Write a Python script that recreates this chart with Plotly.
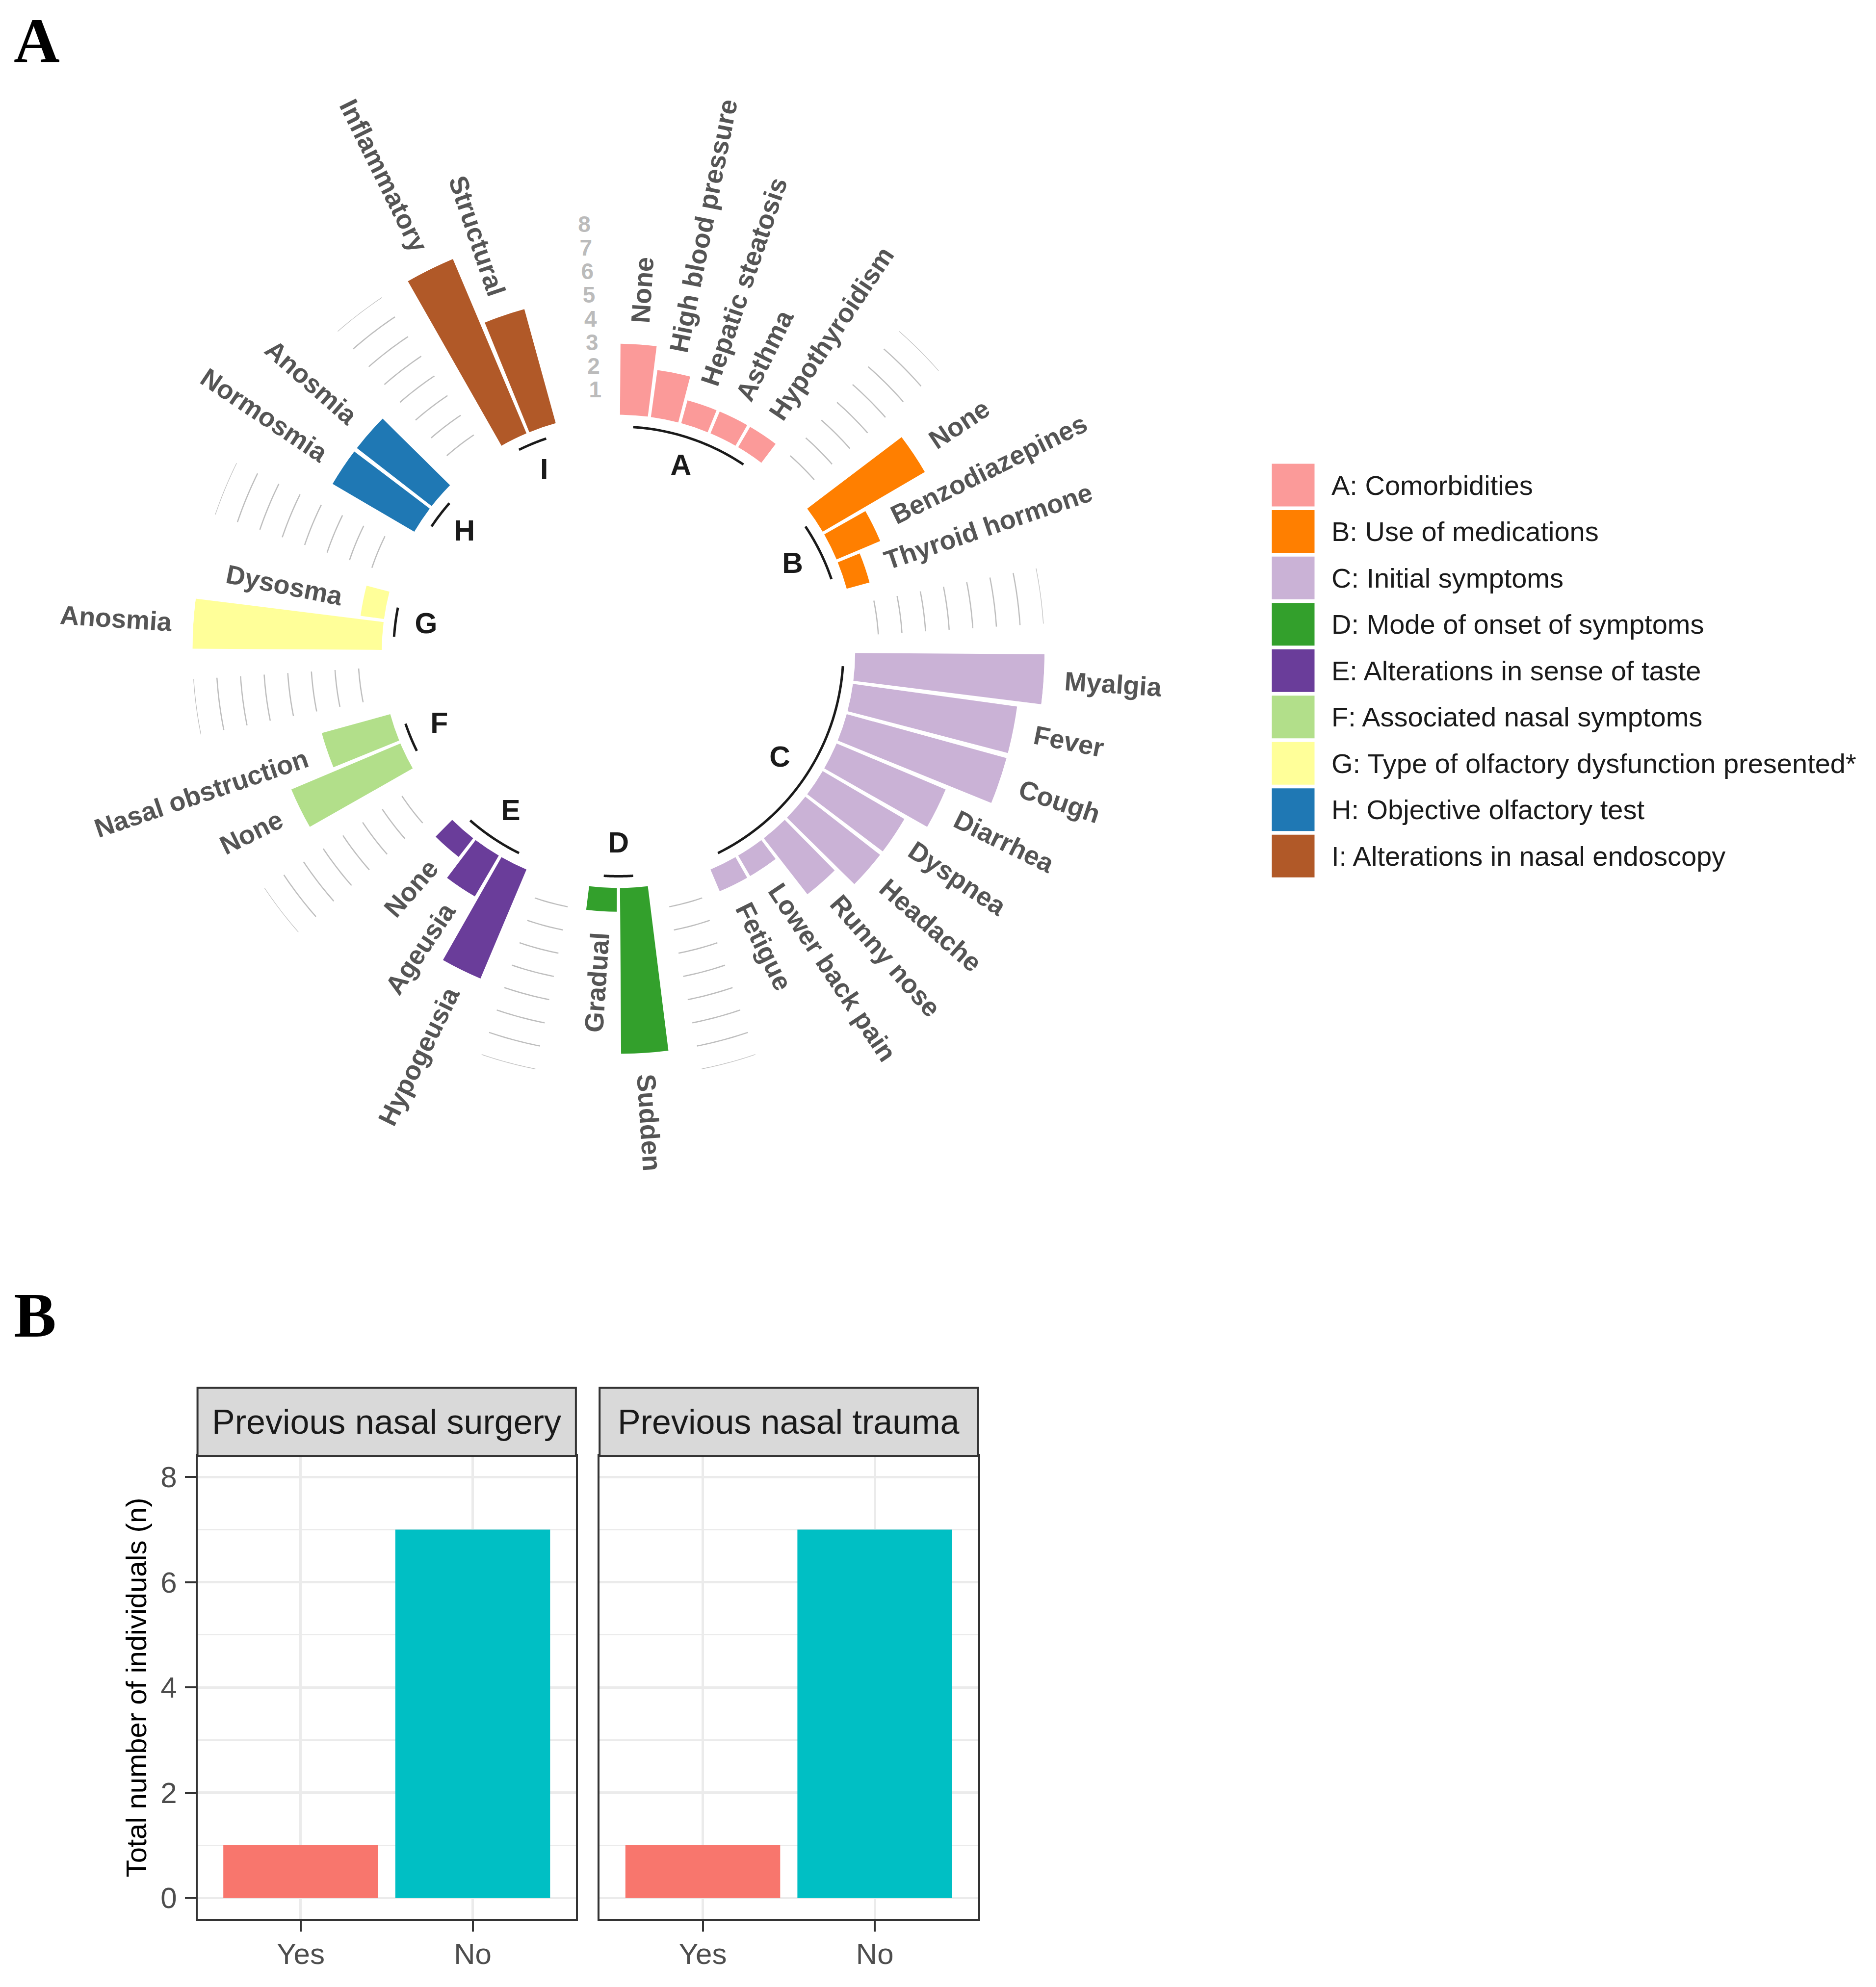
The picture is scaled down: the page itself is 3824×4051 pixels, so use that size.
import numpy as np
import plotly.graph_objects as go

# ======================= DATA =======================
group_letters = ["A", "B", "C", "D", "E", "F", "G", "H", "I"]
group_titles = [
    "Comorbidities",
    "Use of medications",
    "Initial symptoms",
    "Mode of onset of symptoms",
    "Alterations in sense of taste",
    "Associated nasal symptoms",
    "Type of olfactory dysfunction presented*",
    "Objective olfactory test",
    "Alterations in nasal endoscopy",
]
group_colors = ["#FB9A99", "#FF7F00", "#CAB2D6", "#33A02C", "#6A3D9A",
                "#B2DF8A", "#FFFF99", "#1F78B4", "#B15928"]

cats_A = ["None", "High blood pressure", "Hepatic steatosis", "Asthma", "Hypothyroidism"]
vals_A = [3, 2, 1, 1, 1]
cats_B = ["None", "Benzodiazepines", "Thyroid hormone"]
vals_B = [5, 2, 1]
cats_C = ["Myalgia", "Fever", "Cough", "Diarrhea", "Dyspnea", "Headache",
          "Runny nose", "Lower back pain", "Fetigue"]
vals_C = [8, 7, 7, 5, 4, 4, 3, 1, 1]
cats_D = ["Sudden", "Gradual"]
vals_D = [7, 1]
cats_E = ["Hypogeusia", "Ageusia", "None"]
vals_E = [5, 2, 1]
cats_F = ["None", "Nasal obstruction"]
vals_F = [5, 3]
cats_G = ["Anosmia", "Dysosma"]
vals_G = [8, 1]
cats_H = ["Normosmia", "Anosmia"]
vals_H = [4, 4]
cats_I = ["Inflammatory", "Structural"]
vals_I = [8, 5]

scale_ticks = [1, 2, 3, 4, 5, 6, 7, 8]

facet_titles = ["Previous nasal surgery", "Previous nasal trauma"]
answers = ["Yes", "No"]
surgery_n = [1, 7]
trauma_n = [1, 7]
answer_colors = ["#F8766D", "#00BFC4"]
b_yticks = [0, 2, 4, 6, 8]

# ======================= LAYOUT CONSTANTS =======================
W, H = 3824, 4051


def fx(p):
    return p / W


def fy(p):
    return 1 - p / H


CX, CY, RAD = 1260.7, 1328.1, 868.5      # circle centre / outer radius (px)
R_MIN, R_MAX = -10, 8
EMPTY = 2
LABEL_GAP = 0.9
ARC_R = -0.5
LETTER_R = -1.8
SPAN = R_MAX - R_MIN
OVER = 1.4                                # overlay frame enlargement

SANS = "Liberation Sans, Arial, sans-serif"
SERIF = "Liberation Serif, Times New Roman, serif"
LABEL_COLOR = "#555555"

groups = list(zip(group_letters,
                  [cats_A, cats_B, cats_C, cats_D, cats_E, cats_F, cats_G, cats_H, cats_I],
                  [vals_A, vals_B, vals_C, vals_D, vals_E, vals_F, vals_G, vals_H, vals_I],
                  group_colors))

# slot assignment
slot = 1
spans = []
bar_rows = []
for letter, cats, vals, col in groups:
    s0 = slot
    for c, v in zip(cats, vals):
        bar_rows.append((c, v, slot))
        slot += 1
    spans.append((s0, slot - 1))
    slot += EMPTY
N_SLOTS = slot - 1
STEP = 360.0 / N_SLOTS


def theta(s):
    return (s - 0.5) * STEP


fig = go.Figure()

# ---- bars ----
for gi, (letter, cats, vals, col) in enumerate(groups):
    s0, s1 = spans[gi]
    fig.add_trace(go.Barpolar(
        r=vals, theta=[theta(s) for s in range(s0, s1 + 1)], base=0,
        width=STEP * 0.9, marker=dict(color=col, line=dict(width=0)),
        subplot="polar", showlegend=False, hoverinfo="skip"))

# ---- grey scale lines in gaps ----
gl_r, gl_t = [], []
for gi in range(len(groups) - 1):
    e = spans[gi][1]
    ts = np.linspace(theta(e + 1), theta(e + EMPTY), 12)
    for lv in scale_ticks:
        gl_r += [lv] * len(ts) + [None]
        gl_t += list(ts) + [None]
fig.add_trace(go.Scatterpolar(r=gl_r, theta=gl_t, mode="lines",
                              line=dict(color="#BEBEBE", width=2.5),
                              subplot="polar", showlegend=False, hoverinfo="skip"))

# ---- group base arcs ----
ar_r, ar_t = [], []
for s0, s1 in spans:
    ts = np.linspace(theta(s0), theta(s1), 40)
    ar_r += [ARC_R] * len(ts) + [None]
    ar_t += list(ts) + [None]
fig.add_trace(go.Scatterpolar(r=ar_r, theta=ar_t, mode="lines",
                              line=dict(color="#1A1A1A", width=5),
                              subplot="polar", showlegend=False, hoverinfo="skip"))

# ---- group letters ----
fig.add_trace(go.Scatterpolar(
    r=[LETTER_R] * len(spans), theta=[theta((s0 + s1) / 2) for s0, s1 in spans],
    text=group_letters, mode="text", textposition="middle center",
    textfont=dict(family=SANS, size=59, color="#1A1A1A", weight="bold"),
    subplot="polar", showlegend=False, hoverinfo="skip"))

# ---- scale numbers ----
fig.add_trace(go.Scatterpolar(
    r=scale_ticks, theta=[theta(N_SLOTS)] * len(scale_ticks),
    text=[str(t) for t in scale_ticks], mode="text", textposition="middle left",
    textfont=dict(family=SANS, size=46, color="#BBBBBB", weight="bold"),
    subplot="polar", showlegend=False, hoverinfo="skip"))

# overlay cartesian frame concentric with polar (for rotated labels)
fig.add_trace(go.Scatter(x=[None], y=[None], xaxis="x", yaxis="y",
                         showlegend=False, hoverinfo="skip"))

annotations = []
INV = '<span style="color:rgba(0,0,0,0)">{}</span>'
for lab, v, s in bar_rows:
    th = theta(s)
    rr = v + LABEL_GAP - R_MIN
    x = rr * np.sin(np.radians(th))
    y = rr * np.cos(np.radians(th))
    if th < 180:
        txt = INV.format(lab) + lab
        ang = th - 90
    else:
        txt = lab + INV.format(lab)
        ang = th - 270
    annotations.append(dict(
        x=x, y=y, xref="x", yref="y", text=txt, textangle=ang,
        showarrow=False, xanchor="center", yanchor="middle",
        font=dict(family=SANS, size=54, color=LABEL_COLOR, weight="bold")))

# ---- legend (manual, squares on own axis) ----
LEG_X0, LEG_X1 = 2592, 3824
LEG_Y0, LEG_Y1 = 941.8, 1792.6
rows = list(range(1, len(group_letters) + 1))
fig.add_trace(go.Scatter(
    x=[44] * len(rows), y=rows, mode="markers", xaxis="x4", yaxis="y4",
    marker=dict(symbol="square", size=87, color=group_colors, line=dict(width=0)),
    cliponaxis=False, showlegend=False, hoverinfo="skip"))
for k, (letter, title) in enumerate(zip(group_letters, group_titles)):
    annotations.append(dict(
        x=120, y=rows[k], xref="x4", yref="y4", text=f"{letter}: {title}",
        showarrow=False, xanchor="left", yanchor="middle",
        font=dict(family=SANS, size=56, color="#1A1A1A")))

# ======================= PANEL B =======================
P_TOP, P_BOT = 2968.3, 3912.2
STRIP_H = 138.8
panels = [(402.6, 1173.9, "x2", "y2", surgery_n), (1222.2, 1993.5, "x3", "y3", trauma_n)]
shapes = []
for (x0, x1, xa, ya, counts), ftitle in zip(panels, facet_titles):
    fig.add_trace(go.Bar(x=answers, y=counts, marker=dict(color=answer_colors, line=dict(width=0)),
                         width=0.9, xaxis=xa, yaxis=ya, showlegend=False, hoverinfo="skip"))
    shapes.append(dict(type="rect", xref=f"{xa} domain", yref=f"{ya} domain",
                       x0=0, x1=1, y0=1, y1=1 + STRIP_H / (P_BOT - P_TOP),
                       fillcolor="#D9D9D9", line=dict(color="#333333", width=4),
                       layer="above"))
    annotations.append(dict(x=0.5, y=1 + STRIP_H / (P_BOT - P_TOP) / 2,
                            xref=f"{xa} domain", yref=f"{ya} domain",
                            text=ftitle, showarrow=False, xanchor="center", yanchor="middle",
                            font=dict(family=SANS, size=70, color="#1A1A1A")))

annotations.append(dict(x=fx(277), y=0.5, xref="paper", yref="y2 domain",
                        text="Total number of individuals (n)", textangle=-90,
                        showarrow=False, xanchor="center", yanchor="middle",
                        font=dict(family=SANS, size=58, color="#000000")))

# panel tags
annotations.append(dict(x=fx(26), y=fy(82), xref="paper", yref="paper", text="<b>A</b>",
                        showarrow=False, xanchor="left", yanchor="middle",
                        font=dict(family=SERIF, size=130, color="#000000")))
annotations.append(dict(x=fx(26), y=fy(2681), xref="paper", yref="paper", text="<b>B</b>",
                        showarrow=False, xanchor="left", yanchor="middle",
                        font=dict(family=SERIF, size=130, color="#000000")))

axis_common_x = dict(type="category", range=[-0.6, 1.6], showline=True, mirror=True,
                     linecolor="#333333", linewidth=4, ticks="outside", ticklen=22,
                     tickwidth=4, tickcolor="#333333", ticklabelstandoff=-6,
                     tickfont=dict(family=SANS, size=60, color="#4D4D4D"),
                     showgrid=True, gridcolor="#EBEBEB", gridwidth=5, zeroline=False,
                     fixedrange=True)
axis_common_y = dict(range=[-0.4, 8.4], tickvals=b_yticks, showline=True, mirror=True,
                     linecolor="#333333", linewidth=4, ticks="outside", ticklen=22,
                     tickwidth=4, tickcolor="#333333", ticklabelstandoff=4,
                     tickfont=dict(family=SANS, size=60, color="#4D4D4D"),
                     showgrid=True, gridcolor="#EBEBEB", gridwidth=5, zeroline=False,
                     minor=dict(tickvals=[1, 3, 5, 7], showgrid=True, gridcolor="#EBEBEB",
                                gridwidth=2.5, ticks=""),
                     domain=[fy(P_BOT), fy(P_TOP)], fixedrange=True)
axis_y3 = dict(axis_common_y)
axis_y3.update(showticklabels=False, ticks="")

fig.update_layout(
    width=W, height=H, margin=dict(l=0, r=0, t=0, b=0),
    paper_bgcolor="white", plot_bgcolor="white", showlegend=False,
    font=dict(family=SANS),
    polar=dict(
        domain=dict(x=[fx(CX - RAD), fx(CX + RAD)], y=[fy(CY + RAD), fy(CY - RAD)]),
        bgcolor="rgba(0,0,0,0)",
        radialaxis=dict(range=[R_MIN, R_MAX], visible=False, showgrid=False),
        angularaxis=dict(rotation=90, direction="clockwise", visible=False,
                         showgrid=False, thetaunit="degrees"),
    ),
    xaxis=dict(domain=[fx(CX - OVER * RAD), fx(CX + OVER * RAD)],
               range=[-SPAN * OVER, SPAN * OVER], visible=False,
               anchor="y", fixedrange=True),
    yaxis=dict(domain=[fy(CY + OVER * RAD), fy(CY - OVER * RAD)],
               range=[-SPAN * OVER, SPAN * OVER], visible=False,
               anchor="x", fixedrange=True),
    xaxis4=dict(domain=[fx(LEG_X0), fx(LEG_X1)], range=[0, LEG_X1 - LEG_X0], visible=False,
                anchor="y4", fixedrange=True),
    yaxis4=dict(domain=[fy(LEG_Y1), fy(LEG_Y0)], range=[len(rows) + 0.5, 0.5], visible=False,
                anchor="x4", fixedrange=True),
    xaxis2=dict(domain=[fx(402.6), fx(1173.9)], anchor="y2", **axis_common_x),
    yaxis2=dict(anchor="x2", **axis_common_y),
    xaxis3=dict(domain=[fx(1222.2), fx(1993.5)], anchor="y3", **axis_common_x),
    yaxis3=dict(anchor="x3", **axis_y3),
    annotations=annotations,
    shapes=shapes,
)

fig.write_html("out.html", config={"displayModeBar": False},
               post_script="document.body.style.margin='0';document.body.style.overflow='hidden';")
